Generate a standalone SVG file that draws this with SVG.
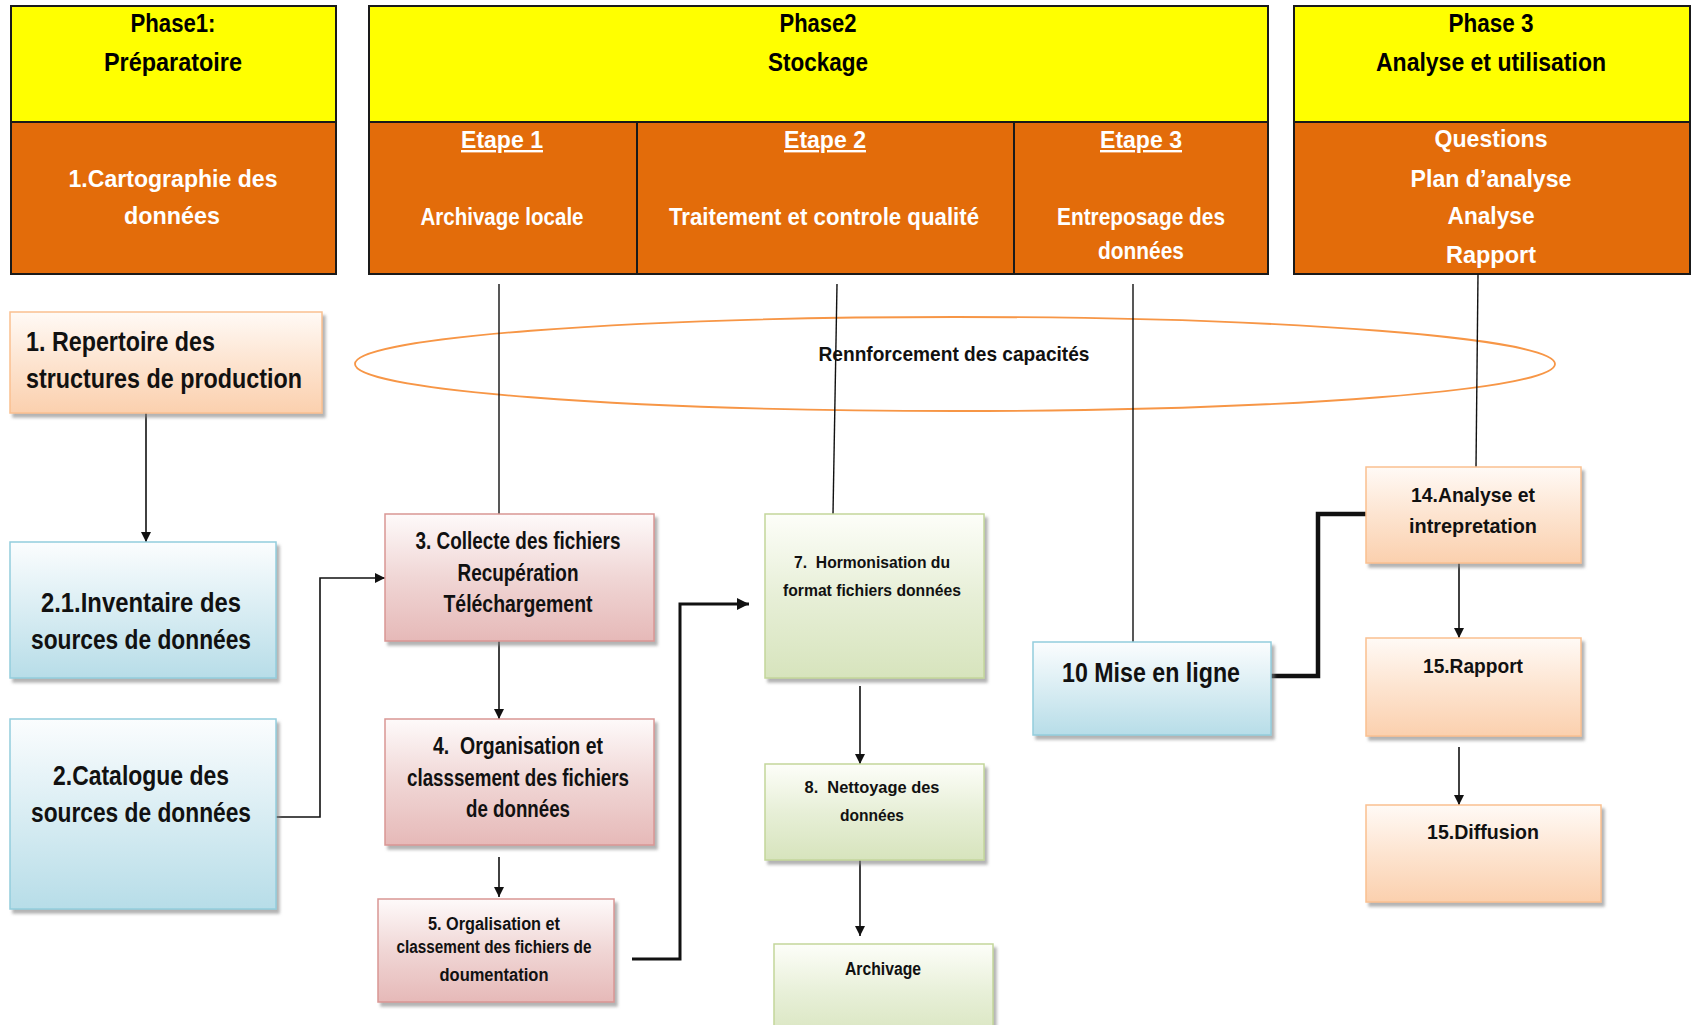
<svg xmlns="http://www.w3.org/2000/svg" width="1692" height="1025" viewBox="0 0 1692 1025">
<defs>
<style>
text{font-family:"Liberation Sans",Arial,sans-serif;font-weight:bold;white-space:pre;}
.hd{font-size:25px;fill:#000;text-anchor:middle;}
.wt{font-size:24px;fill:#fff;text-anchor:middle;}
.nd{fill:#111;text-anchor:middle;}
.yel{fill:#ffff00;stroke:#1a1a1a;stroke-width:2;}
.org{fill:#e36c0a;stroke:#1a1a1a;stroke-width:2;}
.pe{fill:url(#gPeach);stroke:#fac090;stroke-width:1.5;filter:url(#sh);}
.bl{fill:url(#gBlue);stroke:#93cddd;stroke-width:1.5;filter:url(#sh);}
.pk{fill:url(#gPink);stroke:#d99694;stroke-width:1.5;filter:url(#sh);}
.gr{fill:url(#gGreen);stroke:#c3d69b;stroke-width:1.5;filter:url(#sh);}
.ln{stroke:#111;stroke-width:1.4;fill:none;}
.ar{stroke:#111;stroke-width:1.6;fill:none;marker-end:url(#ah);}
.ar2{stroke:#111;stroke-width:3;fill:none;marker-end:url(#ah2);}
.ar3{stroke:#111;stroke-width:4.5;fill:none;marker-end:url(#ah3);}
</style>
<linearGradient id="gPeach" x1="0" y1="0" x2="0" y2="1"><stop offset="0" stop-color="#fffaf6"/><stop offset="0.5" stop-color="#fde4d0"/><stop offset="1" stop-color="#fbd0ae"/></linearGradient>
<linearGradient id="gBlue" x1="0" y1="0" x2="0" y2="1"><stop offset="0" stop-color="#fbfdfe"/><stop offset="0.5" stop-color="#d9edf3"/><stop offset="1" stop-color="#b7dde8"/></linearGradient>
<linearGradient id="gPink" x1="0" y1="0" x2="0" y2="1"><stop offset="0" stop-color="#fefafa"/><stop offset="0.5" stop-color="#f0d6d5"/><stop offset="1" stop-color="#e6b9b8"/></linearGradient>
<linearGradient id="gGreen" x1="0" y1="0" x2="0" y2="1"><stop offset="0" stop-color="#fdfef9"/><stop offset="0.5" stop-color="#e7efd7"/><stop offset="1" stop-color="#d7e4bd"/></linearGradient>
<filter id="sh" x="-10%" y="-10%" width="125%" height="130%"><feDropShadow dx="3" dy="4" stdDeviation="1.5" flood-color="#808080" flood-opacity="0.6"/></filter>
<marker id="ah" viewBox="0 0 10 10" refX="10" refY="5" markerWidth="10" markerHeight="10" markerUnits="userSpaceOnUse" orient="auto"><path d="M0,0 L10,5 L0,10 z" fill="#111"/></marker>
<marker id="ah2" viewBox="0 0 10 10" refX="10" refY="5" markerWidth="12" markerHeight="12" markerUnits="userSpaceOnUse" orient="auto"><path d="M0,0 L10,5 L0,10 z" fill="#111"/></marker>
<marker id="ah3" viewBox="0 0 10 10" refX="10" refY="5" markerWidth="14" markerHeight="14" markerUnits="userSpaceOnUse" orient="auto"><path d="M0,0 L10,5 L0,10 z" fill="#111"/></marker>
</defs>
<rect width="1692" height="1025" fill="#fff"/>

<g id="phase1">
<rect class="yel" x="11" y="6" width="325" height="116"/>
<rect class="org" x="11" y="122" width="325" height="152"/>
<text class="hd" x="173" y="32" textLength="85" lengthAdjust="spacingAndGlyphs">Phase1:</text>
<text class="hd" x="173" y="71" textLength="138" lengthAdjust="spacingAndGlyphs">Préparatoire</text>
<text class="wt" x="173" y="187" textLength="209" lengthAdjust="spacingAndGlyphs">1.Cartographie des</text>
<text class="wt" x="172" y="224" textLength="96" lengthAdjust="spacingAndGlyphs">données</text>
</g>

<g id="phase2">
<rect class="yel" x="369" y="6" width="899" height="116"/>
<rect class="org" x="369" y="122" width="899" height="152"/>
<line x1="637" y1="122" x2="637" y2="274" stroke="#1a1a1a" stroke-width="2"/>
<line x1="1014" y1="122" x2="1014" y2="274" stroke="#1a1a1a" stroke-width="2"/>
<text class="hd" x="818" y="32" textLength="77" lengthAdjust="spacingAndGlyphs">Phase2</text>
<text class="hd" x="818" y="71" textLength="100" lengthAdjust="spacingAndGlyphs">Stockage</text>
<text class="wt" x="502" y="148" text-decoration="underline" textLength="82" lengthAdjust="spacingAndGlyphs">Etape 1</text>
<text class="wt" x="502" y="225" textLength="163" lengthAdjust="spacingAndGlyphs">Archivage locale</text>
<text class="wt" x="825" y="148" text-decoration="underline" textLength="82" lengthAdjust="spacingAndGlyphs">Etape 2</text>
<text class="wt" x="824" y="225" textLength="310" lengthAdjust="spacingAndGlyphs">Traitement et controle qualité</text>
<text class="wt" x="1141" y="148" text-decoration="underline" textLength="82" lengthAdjust="spacingAndGlyphs">Etape 3</text>
<text class="wt" x="1141" y="225" textLength="168" lengthAdjust="spacingAndGlyphs">Entreposage des</text>
<text class="wt" x="1141" y="259" textLength="86" lengthAdjust="spacingAndGlyphs">données</text>
</g>

<g id="phase3">
<rect class="yel" x="1294" y="6" width="396" height="116"/>
<rect class="org" x="1294" y="122" width="396" height="152"/>
<text class="hd" x="1491" y="32" textLength="85" lengthAdjust="spacingAndGlyphs">Phase 3</text>
<text class="hd" x="1491" y="71" textLength="230" lengthAdjust="spacingAndGlyphs">Analyse et utilisation</text>
<text class="wt" x="1491" y="147" textLength="113" lengthAdjust="spacingAndGlyphs">Questions</text>
<text class="wt" x="1491" y="187" textLength="161" lengthAdjust="spacingAndGlyphs">Plan d’analyse</text>
<text class="wt" x="1491" y="224" textLength="87" lengthAdjust="spacingAndGlyphs">Analyse</text>
<text class="wt" x="1491" y="263" textLength="90" lengthAdjust="spacingAndGlyphs">Rapport</text>
</g>

<g id="renforcement">
<ellipse cx="955" cy="364" rx="600" ry="47" fill="none" stroke="#f79646" stroke-width="1.8"/>
<text x="954" y="361" font-size="21" fill="#111" text-anchor="middle" textLength="271" lengthAdjust="spacingAndGlyphs">Rennforcement des capacités</text>
</g>

<g id="connectors">
<line class="ln" x1="499" y1="284" x2="499" y2="514"/>
<line class="ln" x1="837" y1="284" x2="833" y2="514"/>
<line class="ln" x1="1133" y1="284" x2="1133" y2="642"/>
<line class="ln" x1="1478" y1="274" x2="1476" y2="467"/>
<line class="ar" x1="146" y1="413" x2="146" y2="542"/>
<polyline class="ar" points="276,817 320,817 320,578 385,578"/>
<line class="ar" x1="499" y1="641" x2="499" y2="719"/>
<line class="ar" x1="499" y1="857" x2="499" y2="897"/>
<polyline class="ar2" points="632,959 680,959 680,604 749,604"/>
<line class="ar" x1="860" y1="686" x2="860" y2="764"/>
<line class="ar" x1="860" y1="860" x2="860" y2="936"/>
<polyline class="ar3" points="1271,676 1318,676 1318,514 1387,514"/>
<line class="ar" x1="1459" y1="563" x2="1459" y2="638"/>
<line class="ar" x1="1459" y1="747" x2="1459" y2="805"/>
</g>

<g id="n1">
<rect class="pe" x="10" y="312" width="312" height="101"/>
<text x="26" y="351" font-size="27" fill="#111" textLength="189" lengthAdjust="spacingAndGlyphs">1. Repertoire des</text>
<text x="26" y="388" font-size="27" fill="#111" textLength="276" lengthAdjust="spacingAndGlyphs">structures de production</text>
</g>
<g id="n21">
<rect class="bl" x="10" y="542" width="266" height="136"/>
<text class="nd" x="141" y="612" font-size="27" textLength="200" lengthAdjust="spacingAndGlyphs">2.1.Inventaire des</text>
<text class="nd" x="141" y="649" font-size="27" textLength="220" lengthAdjust="spacingAndGlyphs">sources de données</text>
</g>
<g id="n2">
<rect class="bl" x="10" y="719" width="266" height="190"/>
<text class="nd" x="141" y="785" font-size="27" textLength="176" lengthAdjust="spacingAndGlyphs">2.Catalogue des</text>
<text class="nd" x="141" y="822" font-size="27" textLength="220" lengthAdjust="spacingAndGlyphs">sources de données</text>
</g>
<g id="n3">
<rect class="pk" x="385" y="514" width="269" height="127"/>
<text class="nd" x="518" y="549" font-size="23" textLength="205" lengthAdjust="spacingAndGlyphs">3. Collecte des fichiers</text>
<text class="nd" x="518" y="581" font-size="23" textLength="121" lengthAdjust="spacingAndGlyphs">Recupération</text>
<text class="nd" x="518" y="612" font-size="23" textLength="149" lengthAdjust="spacingAndGlyphs">Téléchargement</text>
</g>
<g id="n4">
<rect class="pk" x="385" y="719" width="269" height="126"/>
<text class="nd" x="518" y="754" font-size="23" textLength="170" lengthAdjust="spacingAndGlyphs">4.  Organisation et</text>
<text class="nd" x="518" y="786" font-size="23" textLength="222" lengthAdjust="spacingAndGlyphs">classsement des fichiers</text>
<text class="nd" x="518" y="817" font-size="23" textLength="104" lengthAdjust="spacingAndGlyphs">de données</text>
</g>
<g id="n5">
<rect class="pk" x="378" y="899" width="236" height="103"/>
<text class="nd" x="494" y="930" font-size="18" textLength="132" lengthAdjust="spacingAndGlyphs">5. Orgalisation et</text>
<text class="nd" x="494" y="953" font-size="18" textLength="195" lengthAdjust="spacingAndGlyphs">classement des fichiers de</text>
<text class="nd" x="494" y="981" font-size="18" textLength="109" lengthAdjust="spacingAndGlyphs">doumentation</text>
</g>
<g id="n7">
<rect class="gr" x="765" y="514" width="219" height="164"/>
<text class="nd" x="872" y="568" font-size="17" textLength="156" lengthAdjust="spacingAndGlyphs">7.  Hormonisation du</text>
<text class="nd" x="872" y="596" font-size="17" textLength="178" lengthAdjust="spacingAndGlyphs">format fichiers données</text>
</g>
<g id="n8">
<rect class="gr" x="765" y="764" width="219" height="96"/>
<text class="nd" x="872" y="793" font-size="17" textLength="135" lengthAdjust="spacingAndGlyphs">8.  Nettoyage des</text>
<text class="nd" x="872" y="821" font-size="17" textLength="64" lengthAdjust="spacingAndGlyphs">données</text>
</g>
<g id="n9">
<rect class="gr" x="774" y="944" width="219" height="100"/>
<text class="nd" x="883" y="975" font-size="18" textLength="76" lengthAdjust="spacingAndGlyphs">Archivage</text>
</g>
<g id="n10">
<rect class="bl" x="1033" y="642" width="238" height="93"/>
<text class="nd" x="1151" y="682" font-size="27" textLength="178" lengthAdjust="spacingAndGlyphs">10 Mise en ligne</text>
</g>
<g id="n14">
<rect class="pe" x="1366" y="467" width="215" height="96"/>
<text class="nd" x="1473" y="502" font-size="21" textLength="124" lengthAdjust="spacingAndGlyphs">14.Analyse et</text>
<text class="nd" x="1473" y="533" font-size="21" textLength="128" lengthAdjust="spacingAndGlyphs">intrepretation</text>
</g>
<g id="n15">
<rect class="pe" x="1366" y="638" width="215" height="98"/>
<text class="nd" x="1473" y="673" font-size="21" textLength="100" lengthAdjust="spacingAndGlyphs">15.Rapport</text>
</g>
<g id="n16">
<rect class="pe" x="1366" y="805" width="235" height="97"/>
<text class="nd" x="1483" y="839" font-size="21" textLength="112" lengthAdjust="spacingAndGlyphs">15.Diffusion</text>
</g>
</svg>
